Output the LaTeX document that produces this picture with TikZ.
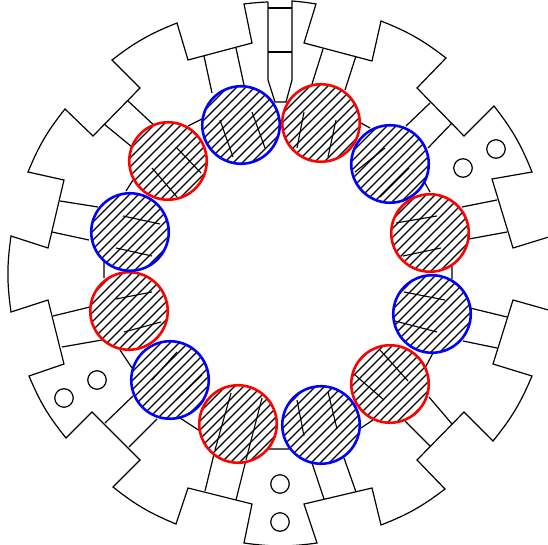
\documentclass[tikz,border=0pt]{standalone}
\tikzset{
  plate/.style={line width=1.2pt,black,line join=miter},
  coil/.style={circle,minimum size=77.5pt,inner sep=0pt,line width=2.6pt},
  bluecoil/.style={coil,draw={rgb,255:red,0;green,0;blue,255}},
  redcoil/.style={coil,draw={rgb,255:red,255;green,0;blue,0}},
  hole/.style={circle,draw=black,line width=1.2pt,minimum size=18.5pt,inner sep=0pt},
  hatchline/.style={line width=1.2pt,black},
  tie/.style={line width=1.1pt,black},
}
\begin{document}
\begin{tikzpicture}[x=1pt,y=-1pt]
\useasboundingbox (0,0) rectangle (548,545);
\clip (0,0) rectangle (548,545);
% outline of the yoke
\draw[plate] (268,2) -- (268,80) -- (275,102) -- (286,102) -- (292,80) -- (292,1)
  to[bend left=2.5] (316,4) -- (304,43) -- (372,61) -- (381,21)
  to[bend left=8] (446,58) -- (417,88) -- (464,136) -- (494,106)
  to[bend left=8] (532,172) -- (492,179) -- (513,248) -- (552,236);
\draw[plate] (552,311) -- (513,300) -- (493,364) -- (532,376)
  to[bend left=8] (493,441) -- (464,412) -- (417,460) -- (445,489)
  to[bend left=8] (381,525) -- (372,488) -- (304,504) -- (317,543)
  to[bend left=8] (244,543) -- (252,504) -- (188,488) -- (176,524)
  to[bend left=8] (113,487) -- (140,460) -- (92,412) -- (66,438)
  to[bend left=8] (29,376) -- (64,364) -- (48,300) -- (11,312)
  to[bend left=8] (11,236) -- (48,248) -- (64,180) -- (28,172)
  to[bend left=8] (65,109) -- (93,136) -- (140,88) -- (112,60)
  to[bend left=8] (177,23) -- (188,60) -- (252,43) -- (244,4)
  to[bend left=2.5] (268,2);
\draw[plate] (268,8) -- (292,8) (268,52) -- (292,52);
% necks
\draw[plate] (204,56) -- (212,93) (236,48) -- (244,85)
  (323,49) -- (312,84) (356,56) -- (345,90)
  (430,103) -- (406,126) (452,123) -- (428,148)
  (462,207) -- (497,200) (469,239) -- (507,232)
  (470,308) -- (507,317) (463,341) -- (497,348)
  (429,397) -- (452,424) (405,421) -- (430,446)
  (312,463) -- (324,499) (344,458) -- (356,492)
  (205,491) -- (215,450) (236,500) -- (246,460)
  (133,396) -- (105,423) (157,419) -- (129,447)
  (53,316) -- (90,307) (62,347) -- (102,340)
  (52,232) -- (89,240) (60,201) -- (98,207)
  (128,101) -- (157,128) (104,124) -- (132,147);
% bits of the bore between the coils
\draw[plate] (188,126) -- (202,119) (361,123) -- (370,128)
  (425,183) -- (430,192) (452,266) -- (452,279)
  (433,353) -- (425,368) (373,420) -- (361,428)
  (269,449) -- (289,449) (180,418) -- (200,431)
  (120,350) -- (132,368) (104,260) -- (104,278)
  (126,191) -- (133,180);
% holes
\node[hole] (h1) at (496,149) {};
\node[hole] (h2) at (463,168) {};
\node[hole] (h3) at (97,380) {};
\node[hole] (h4) at (64,398) {};
\node[hole] (h5) at (280,484) {};
\node[hole] (h6) at (280,522) {};
% coil hatching
\begin{scope}
\clip (241,125) circle (38) (321,123) circle (38) (390,164) circle (38)
  (430,233) circle (38) (432,314) circle (38) (390,384) circle (38)
  (321,425) circle (38) (238,424) circle (38) (170,380) circle (38)
  (129,311) circle (38) (130,232) circle (38) (168,161) circle (38);
\fill[white] (0,0) rectangle (548,545);
\foreach \k in {16,...,120} \draw[hatchline] ({\k*9},0) -- (0,{\k*9});
\end{scope}
% coils
\node[bluecoil] (c1) at (241,125) {};
\node[redcoil]  (c2) at (321,123) {};
\node[bluecoil] (c3) at (390,164) {};
\node[redcoil]  (c4) at (430,233) {};
\node[bluecoil] (c5) at (432,314) {};
\node[redcoil]  (c6) at (390,384) {};
\node[bluecoil] (c7) at (321,425) {};
\node[redcoil]  (c8) at (238,424) {};
\node[bluecoil] (c9) at (170,380) {};
\node[redcoil]  (c10) at (129,311) {};
\node[bluecoil] (c11) at (130,232) {};
\node[redcoil]  (c12) at (168,161) {};
% conductors inside coils
\draw[tie] (220,120) -- (233,157) (252,112) -- (265,148)
  (304,112) -- (297,148) (336,120) -- (328,157)
  (355,172) -- (385,148) (380,197) -- (409,168)
  (396,223) -- (437,216) (403,256) -- (441,248)
  (404,292) -- (445,300) (395,321) -- (437,332)
  (380,350) -- (408,381) (355,375) -- (384,400)
  (297,400) -- (304,436) (328,392) -- (337,429)
  (215,450) -- (231,393) (246,460) -- (262,398)
  (152,380) -- (177,352) (176,400) -- (202,375)
  (116,299) -- (152,292) (124,332) -- (161,322)
  (123,216) -- (160,224) (116,248) -- (152,256)
  (176,147) -- (201,173) (152,168) -- (177,197);
\end{tikzpicture}
\end{document}
